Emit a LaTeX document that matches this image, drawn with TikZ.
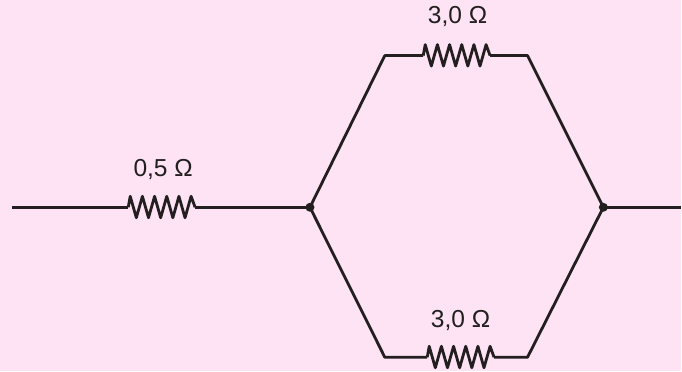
\documentclass[tikz,border=0pt]{standalone}
\usepackage{fontspec}
\setmainfont{Liberation Sans}
\usetikzlibrary{positioning,calc}
\definecolor{bgpink}{HTML}{FDE3F3}
\definecolor{wireblack}{HTML}{231F20}
\tikzset{
  wire/.style={draw=wireblack,line width=1.6pt,line join=round},
  junction/.style={circle,fill=wireblack,inner sep=0pt,minimum size=0.18cm},
  ohmlabel/.style={inner sep=0pt,text=wireblack,font=\fontsize{14}{16}\selectfont},
  % zigzag is 67 wide, and spans 11 up and down
  resistor/.pic={
    \coordinate (-in) at (-33.5,0);
    \coordinate (-out) at (33.5,0);
    \draw[wire] (-in) -- (-31.5,-11)
      -- (-25.4,10.5) -- (-19.3,-11) -- (-13.2,10.5) -- (-7.1,-11) -- (-1,10.5)
      -- (5.1,-11) -- (11.2,10.5) -- (17.3,-11) -- (23.4,10.5) -- (29.5,-11) -- (-out);
  }
}

\begin{document}
\begin{tikzpicture}[x=0.02cm,y=-0.02cm]
            % background
            \fill[bgpink] (0,0) rectangle (682,372);
            % corners and free ends
            \coordinate (leftend) at (12,207.7);
            \coordinate (rightend) at (682,207.7);
            \coordinate (topleft) at (385.6,55.7);
            \coordinate (topright) at (528.6,55.7);
            \coordinate (botleft) at (385.6,358);
            \coordinate (botright) at (528.6,358);
            % junctions
            \node[junction] (jleft) at (310.6,207.7) {};
            \node[junction] (jright) at (604.6,207.7) {};
            % resistors
            \pic (rseries) at (162,207.7) {resistor};
            \pic (rtop) at (457.6,55.7) {resistor};
            \pic (rbot) at (461.6,358) {resistor};
            % wires
            \draw[wire] (leftend) -- (rseries-in);
            \draw[wire] (rseries-out) -- (jleft.center);
            \draw[wire] (jleft.center) -- (topleft) -- (rtop-in);
            \draw[wire] (rtop-out) -- (topright) -- (jright.center);
            \draw[wire] (jleft.center) -- (botleft) -- (rbot-in);
            \draw[wire] (rbot-out) -- (botright) -- (jright.center);
            \draw[wire] (jright.center) -- (rightend);
            % labels
            \node[ohmlabel] (lseries) at (163.5,170) {0,5 Ω};
            \node[ohmlabel] (ltop) at (458.5,17) {3,0 Ω};
            \node[ohmlabel] (lbot) at (461.5,321) {3,0 Ω};
          \end{tikzpicture}
\end{document}
